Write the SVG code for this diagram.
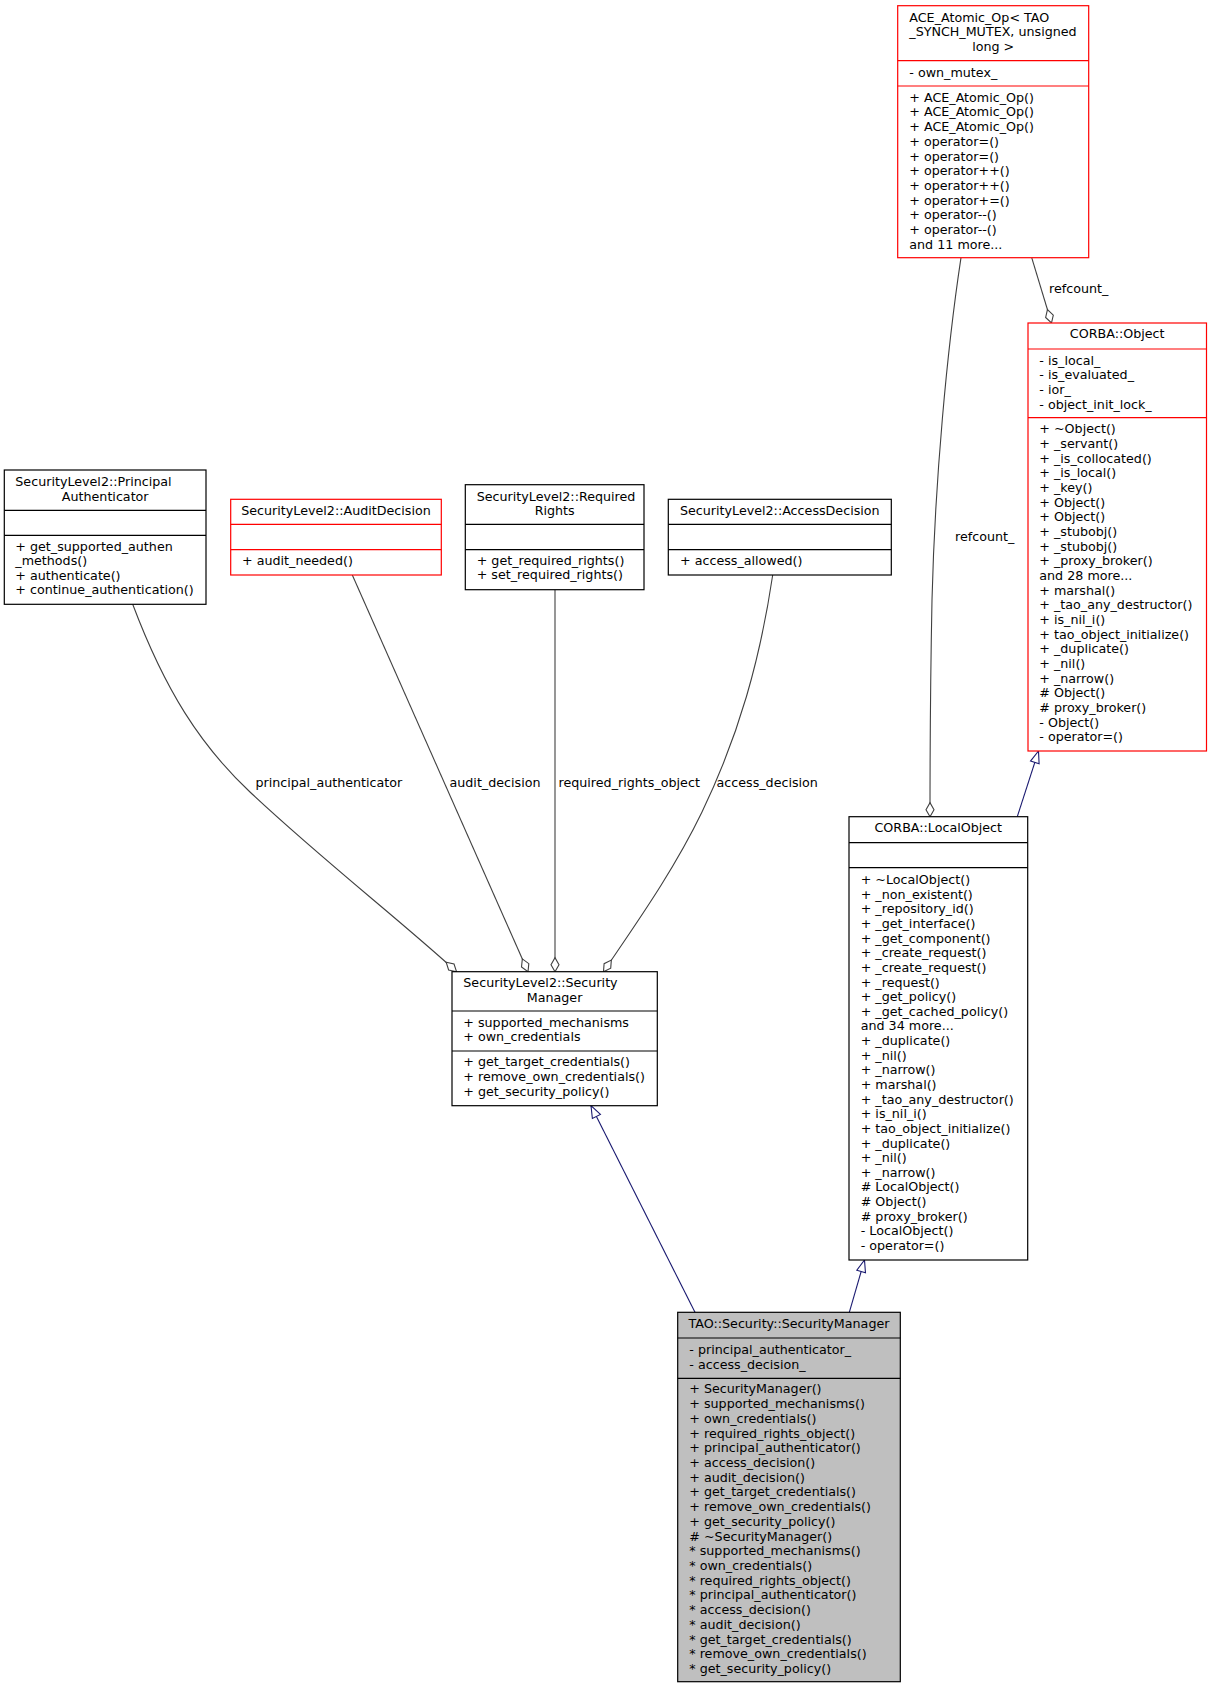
<svg xmlns="http://www.w3.org/2000/svg" width="1212" height="1688" viewBox="0 0 1212 1688">
<style>
text{font-family:"DejaVu Sans","Verdana",sans-serif;font-size:12.7px;fill:#000}
.c{text-anchor:middle}
.bx{fill:#fff;stroke:#000;stroke-width:1.2}
.rd{fill:#fff;stroke:#ff0000;stroke-width:1.2}
.gr{fill:#bfbfbf;stroke:#000;stroke-width:1.2}
.sl{stroke:#000;stroke-width:1.2}
.sr{stroke:#ff0000;stroke-width:1.2}
.ag{fill:none;stroke:#404040;stroke-width:1.1;marker-end:url(#dia)}
.ih{fill:none;stroke:#191970;stroke-width:1.1;marker-end:url(#tri)}
</style>
<defs>
<marker id="dia" markerUnits="userSpaceOnUse" viewBox="-15 -5 16 10" refX="0" refY="0" markerWidth="16" markerHeight="10" orient="auto" overflow="visible">
<path d="M0,0 L-7,-4 L-14,0 L-7,4 Z" fill="#fff" stroke="#404040" stroke-width="1.1"/>
</marker>
<marker id="tri" markerUnits="userSpaceOnUse" viewBox="-13 -6 14 12" refX="0" refY="0" markerWidth="14" markerHeight="12" orient="auto" overflow="visible">
<path d="M0,0 L-12,-4.5 L-12,4.5 Z" fill="#fff" stroke="#191970" stroke-width="1.1"/>
</marker>
</defs>
<rect width="1212" height="1688" fill="#fff"/>

<g id="connectors">
<path class="ag" d="M132.7,604.3 C165,690 200,745 250,792 C320,858 400,920 456.5,971.7"/>
<path class="ag" d="M352.3,575 L528,971.7"/>
<path class="ag" d="M555,589.7 L555,971.7"/>
<path class="ag" d="M772.7,575 C760,660 739,735 702,812 C673,872 635,925 603.5,971.7"/>
<path class="ag" d="M961,257.7 C947,350 935,480 932,600 C930,700 930,770 930,816.7"/>
<path class="ag" d="M1031.7,257.7 L1051.5,323"/>
<path class="ih" d="M1017.3,816.7 L1038.5,751"/>
<path class="ih" d="M695,1312.3 L591,1105.7"/>
<path class="ih" d="M849.3,1312.3 L864.5,1260"/>
<text x="255.4" y="786.7">principal_authenticator</text>
<text x="449.5" y="786.7">audit_decision</text>
<text x="558.5" y="786.7">required_rights_object</text>
<text x="716.5" y="786.7">access_decision</text>
<text x="955" y="540.7">refcount_</text>
<text x="1049" y="293">refcount_</text>
</g>

<g id="ace_atomic_op">
<rect class="rd" x="897.7" y="5.7" width="191" height="252"/>
<line class="sr" x1="897.7" y1="60.7" x2="1088.7" y2="60.7"/>
<line class="sr" x1="897.7" y1="86" x2="1088.7" y2="86"/>
<text x="909.3" y="21.5">ACE_Atomic_Op&lt; TAO</text>
<text x="909.3" y="36.2">_SYNCH_MUTEX, unsigned</text>
<text class="c" x="993.2" y="50.5">long &gt;</text>
<text x="909.3" y="76.7">- own_mutex_</text>
<text x="909.3" y="101.7">+ ACE_Atomic_Op()</text>
<text x="909.3" y="116.4">+ ACE_Atomic_Op()</text>
<text x="909.3" y="131.1">+ ACE_Atomic_Op()</text>
<text x="909.3" y="145.8">+ operator=()</text>
<text x="909.3" y="160.5">+ operator=()</text>
<text x="909.3" y="175.2">+ operator++()</text>
<text x="909.3" y="189.9">+ operator++()</text>
<text x="909.3" y="204.6">+ operator+=()</text>
<text x="909.3" y="219.3">+ operator--()</text>
<text x="909.3" y="234">+ operator--()</text>
<text x="909.3" y="248.7">and 11 more...</text>
</g>

<g id="corba_object">
<rect class="rd" x="1028" y="323" width="178.5" height="428"/>
<line class="sr" x1="1028" y1="349" x2="1206.5" y2="349"/>
<line class="sr" x1="1028" y1="417.7" x2="1206.5" y2="417.7"/>
<text class="c" x="1117.2" y="338.3">CORBA::Object</text>
<text x="1039.3" y="364.7">- is_local_</text>
<text x="1039.3" y="379.4">- is_evaluated_</text>
<text x="1039.3" y="394">- ior_</text>
<text x="1039.3" y="408.7">- object_init_lock_</text>
<text x="1039.3" y="433.3">+ ~Object()</text>
<text x="1039.3" y="448">+ _servant()</text>
<text x="1039.3" y="462.6">+ _is_collocated()</text>
<text x="1039.3" y="477.3">+ _is_local()</text>
<text x="1039.3" y="492">+ _key()</text>
<text x="1039.3" y="506.6">+ Object()</text>
<text x="1039.3" y="521.3">+ Object()</text>
<text x="1039.3" y="536">+ _stubobj()</text>
<text x="1039.3" y="550.7">+ _stubobj()</text>
<text x="1039.3" y="565.3">+ _proxy_broker()</text>
<text x="1039.3" y="580">and 28 more...</text>
<text x="1039.3" y="594.7">+ marshal()</text>
<text x="1039.3" y="609.3">+ _tao_any_destructor()</text>
<text x="1039.3" y="624">+ is_nil_i()</text>
<text x="1039.3" y="638.7">+ tao_object_initialize()</text>
<text x="1039.3" y="653.4">+ _duplicate()</text>
<text x="1039.3" y="668">+ _nil()</text>
<text x="1039.3" y="682.7">+ _narrow()</text>
<text x="1039.3" y="697.4">#  Object()</text>
<text x="1039.3" y="712">#  proxy_broker()</text>
<text x="1039.3" y="726.7">- Object()</text>
<text x="1039.3" y="741.4">- operator=()</text>
</g>

<g id="corba_localobject">
<rect class="bx" x="849" y="816.7" width="178.7" height="443.3"/>
<line class="sl" x1="849" y1="842.7" x2="1027.7" y2="842.7"/>
<line class="sl" x1="849" y1="867.7" x2="1027.7" y2="867.7"/>
<text class="c" x="938.3" y="832.3">CORBA::LocalObject</text>
<text x="860.7" y="884">+ ~LocalObject()</text>
<text x="860.7" y="898.6">+ _non_existent()</text>
<text x="860.7" y="913.3">+ _repository_id()</text>
<text x="860.7" y="927.9">+ _get_interface()</text>
<text x="860.7" y="942.6">+ _get_component()</text>
<text x="860.7" y="957.2">+ _create_request()</text>
<text x="860.7" y="971.8">+ _create_request()</text>
<text x="860.7" y="986.5">+ _request()</text>
<text x="860.7" y="1001.1">+ _get_policy()</text>
<text x="860.7" y="1015.8">+ _get_cached_policy()</text>
<text x="860.7" y="1030.4">and 34 more...</text>
<text x="860.7" y="1045">+ _duplicate()</text>
<text x="860.7" y="1059.7">+ _nil()</text>
<text x="860.7" y="1074.3">+ _narrow()</text>
<text x="860.7" y="1089">+ marshal()</text>
<text x="860.7" y="1103.6">+ _tao_any_destructor()</text>
<text x="860.7" y="1118.2">+ is_nil_i()</text>
<text x="860.7" y="1132.9">+ tao_object_initialize()</text>
<text x="860.7" y="1147.5">+ _duplicate()</text>
<text x="860.7" y="1162.2">+ _nil()</text>
<text x="860.7" y="1176.8">+ _narrow()</text>
<text x="860.7" y="1191.4">#  LocalObject()</text>
<text x="860.7" y="1206.1">#  Object()</text>
<text x="860.7" y="1220.7">#  proxy_broker()</text>
<text x="860.7" y="1235.4">- LocalObject()</text>
<text x="860.7" y="1250">- operator=()</text>
</g>

<g id="principal_authenticator">
<rect class="bx" x="4.3" y="470" width="201.7" height="134.3"/>
<line class="sl" x1="4.3" y1="510.3" x2="206" y2="510.3"/>
<line class="sl" x1="4.3" y1="535.3" x2="206" y2="535.3"/>
<text x="15.3" y="486">SecurityLevel2::Principal</text>
<text class="c" x="105.2" y="500.5">Authenticator</text>
<text x="15.3" y="550.5">+ get_supported_authen</text>
<text x="15.3" y="565">_methods()</text>
<text x="15.3" y="579.5">+ authenticate()</text>
<text x="15.3" y="594">+ continue_authentication()</text>
</g>

<g id="audit_decision">
<rect class="rd" x="230.7" y="499.3" width="210.6" height="75.7"/>
<line class="sr" x1="230.7" y1="524.3" x2="441.3" y2="524.3"/>
<line class="sr" x1="230.7" y1="549.7" x2="441.3" y2="549.7"/>
<text class="c" x="336" y="514.7">SecurityLevel2::AuditDecision</text>
<text x="242" y="564.7">+ audit_needed()</text>
</g>

<g id="required_rights">
<rect class="bx" x="465.3" y="484.7" width="178.7" height="105"/>
<line class="sl" x1="465.3" y1="524.3" x2="644" y2="524.3"/>
<line class="sl" x1="465.3" y1="549.7" x2="644" y2="549.7"/>
<text x="476.7" y="500.5">SecurityLevel2::Required</text>
<text class="c" x="554.7" y="515">Rights</text>
<text x="476.7" y="564.7">+ get_required_rights()</text>
<text x="476.7" y="579.3">+ set_required_rights()</text>
</g>

<g id="access_decision">
<rect class="bx" x="668.3" y="499.3" width="223" height="75.7"/>
<line class="sl" x1="668.3" y1="524.3" x2="891.3" y2="524.3"/>
<line class="sl" x1="668.3" y1="549.7" x2="891.3" y2="549.7"/>
<text class="c" x="779.8" y="514.7">SecurityLevel2::AccessDecision</text>
<text x="680" y="564.7">+ access_allowed()</text>
</g>

<g id="security_manager">
<rect class="bx" x="452" y="971.7" width="205.3" height="134"/>
<line class="sl" x1="452" y1="1011" x2="657.3" y2="1011"/>
<line class="sl" x1="452" y1="1051" x2="657.3" y2="1051"/>
<text x="463.3" y="986.7">SecurityLevel2::Security</text>
<text class="c" x="554.6" y="1001.5">Manager</text>
<text x="463.3" y="1026.5">+ supported_mechanisms</text>
<text x="463.3" y="1041.2">+ own_credentials</text>
<text x="463.3" y="1066.3">+ get_target_credentials()</text>
<text x="463.3" y="1081">+ remove_own_credentials()</text>
<text x="463.3" y="1095.8">+ get_security_policy()</text>
</g>

<g id="tao_security_manager">
<rect class="gr" x="677.7" y="1312.3" width="222.6" height="369.4"/>
<line class="sl" x1="677.7" y1="1338" x2="900.3" y2="1338"/>
<line class="sl" x1="677.7" y1="1378.3" x2="900.3" y2="1378.3"/>
<text class="c" x="789" y="1328.3">TAO::Security::SecurityManager</text>
<text x="689.3" y="1354">- principal_authenticator_</text>
<text x="689.3" y="1368.7">- access_decision_</text>
<text x="689.3" y="1393.3">+ SecurityManager()</text>
<text x="689.3" y="1408">+ supported_mechanisms()</text>
<text x="689.3" y="1422.7">+ own_credentials()</text>
<text x="689.3" y="1437.5">+ required_rights_object()</text>
<text x="689.3" y="1452.2">+ principal_authenticator()</text>
<text x="689.3" y="1466.9">+ access_decision()</text>
<text x="689.3" y="1481.6">+ audit_decision()</text>
<text x="689.3" y="1496.3">+ get_target_credentials()</text>
<text x="689.3" y="1511.1">+ remove_own_credentials()</text>
<text x="689.3" y="1525.8">+ get_security_policy()</text>
<text x="689.3" y="1540.5">#  ~SecurityManager()</text>
<text x="689.3" y="1555.2">* supported_mechanisms()</text>
<text x="689.3" y="1569.9">* own_credentials()</text>
<text x="689.3" y="1584.7">* required_rights_object()</text>
<text x="689.3" y="1599.4">* principal_authenticator()</text>
<text x="689.3" y="1614.1">* access_decision()</text>
<text x="689.3" y="1628.8">* audit_decision()</text>
<text x="689.3" y="1643.5">* get_target_credentials()</text>
<text x="689.3" y="1658.3">* remove_own_credentials()</text>
<text x="689.3" y="1673">* get_security_policy()</text>
</g>
</svg>
